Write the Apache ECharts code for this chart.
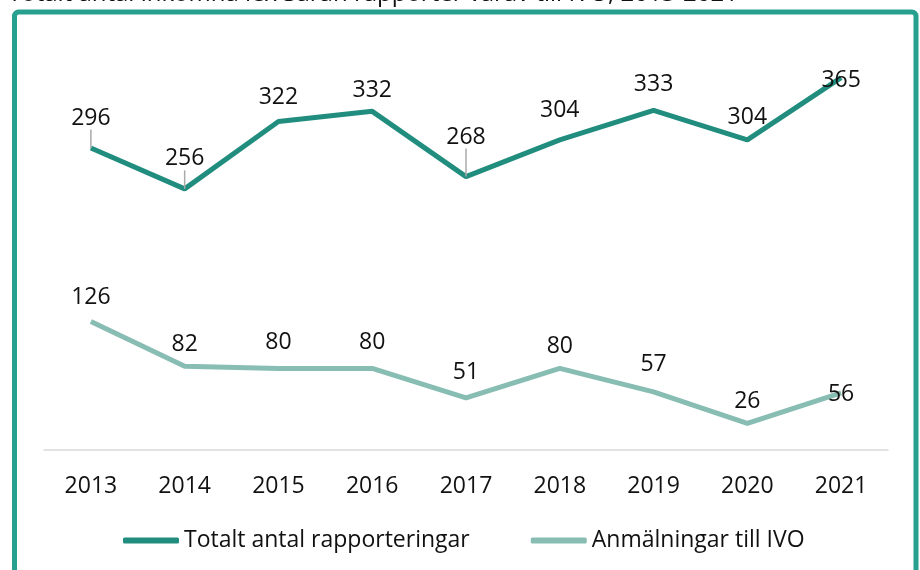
<!DOCTYPE html>
<html>
<head>
<meta charset="utf-8">
<script src="https://cdn.jsdelivr.net/npm/echarts@6/dist/echarts.min.js"></script>
<style>
  html, body { margin: 0; padding: 0; background: #fff; }
  #chart-container { width: 920px; height: 570px; }
</style>
</head>
<body>
<div id="chart-container"></div>
<script>
// data
const years = ["2013", "2014", "2015", "2016", "2017", "2018", "2019", "2020", "2021"];
const totalReports = [296, 256, 322, 332, 268, 304, 333, 304, 365];
const ivoReports = [126, 82, 80, 80, 51, 80, 57, 26, 56];
const seriesNames = ["Totalt antal rapporteringar", "Anmälningar till IVO"];
const titleText = "Totalt antal inkomna lex Sarah rapporter varav till IVO, 2013-2021";

// label distance above each point
const totalLabelDist = [18.5, 18.5, 13, 9, 28, 17.5, 14, 10.5, -14];
const ivoLabelDist = [12, 10, 14, 14, 13.5, 10, 15.5, 10, -13.5];
// points whose label has a small grey leader line
const totalLeader = [true, true, false, false, true, false, false, false, false];

const font = "'Open Sans', Lato, sans-serif";
const fontSize = 23;
const darkTeal = "#218d7e";
const lightTeal = "#88bdb3";

function buildData(values, dists, leaders) {
  return values.map((v, i) => {
    const lead = leaders && leaders[i];
    return {
      value: v,
      label: { distance: lead ? 3 : dists[i] },
      labelLine: { show: !!lead },
    };
  });
}

const chart = echarts.init(document.getElementById("chart-container"));
chart.setOption({
  animation: false,
  grid: { left: 44, right: 32, top: 42, bottom: 120 },
  graphic: [
    {
      type: "rect",
      shape: { x: 14.5, y: 12, width: 901.5, height: 620, r: 4 },
      style: { fill: "none", stroke: "#27a090", lineWidth: 5 },
      silent: true,
    },
    {
      type: "text",
      left: 8,
      top: -18,
      style: { text: titleText, font: "24px " + font, fill: "#111" },
      silent: true,
    },
  ],
  legend: {
    left: 118,
    top: 524,
    itemGap: 61,
    itemWidth: 56,
    itemHeight: 6,
    icon: "roundRect",
    textStyle: { fontFamily: font, fontSize: fontSize, color: "#111" },
    data: seriesNames,
  },
  xAxis: {
    type: "category",
    data: years,
    boundaryGap: true,
    axisLine: { lineStyle: { color: "#d9d9d9", width: 1.5 } },
    axisTick: { show: false },
    axisLabel: { margin: 25, fontFamily: font, fontSize: fontSize, color: "#111" },
  },
  yAxis: {
    type: "value",
    min: 0,
    max: 400,
    show: false,
    splitLine: { show: false },
  },
  series: [
    {
      name: seriesNames[0],
      type: "line",
      data: buildData(totalReports, totalLabelDist, totalLeader),
      symbol: "circle",
      symbolSize: 0.1,
      lineStyle: { color: darkTeal, width: 5 },
      itemStyle: { color: darkTeal },
      label: {
        show: true,
        position: "top",
        fontFamily: font,
        fontSize: fontSize,
        color: "#111",
      },
      labelLine: { lineStyle: { color: "#aaaaaa", width: 1.5 } },
      labelLayout: function (p) {
        if (totalLeader[p.dataIndex]) {
          return { dy: -(totalLabelDist[p.dataIndex] - 3) };
        }
        return {};
      },
    },
    {
      name: seriesNames[1],
      type: "line",
      data: buildData(ivoReports, ivoLabelDist, null),
      symbol: "circle",
      symbolSize: 0.1,
      lineStyle: { color: lightTeal, width: 5 },
      itemStyle: { color: lightTeal },
      label: {
        show: true,
        position: "top",
        fontFamily: font,
        fontSize: fontSize,
        color: "#111",
      },
    },
  ],
});
</script>
</body>
</html>
